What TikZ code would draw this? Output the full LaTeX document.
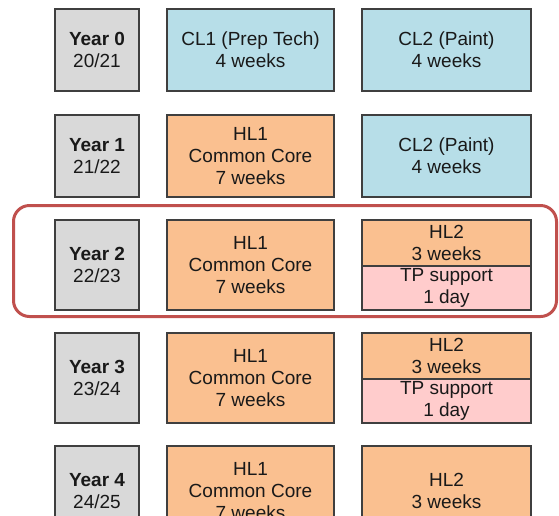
\documentclass[tikz,border=0pt]{standalone}
\usepackage{fontspec}
\setmainfont{Liberation Sans}
\usepackage{tikz}
\usetikzlibrary{positioning}
\definecolor{yeargrey}{HTML}{D9D9D9}
\definecolor{clblue}{HTML}{B7DEE8}
\definecolor{hlorange}{HTML}{FAC090}
\definecolor{tppink}{HTML}{FFCCCC}
\definecolor{edgegrey}{HTML}{3F3F3F}
\definecolor{markred}{HTML}{C0504D}
\tikzstyle{cell} = [rectangle, draw=edgegrey, line width=1.2pt, inner sep=0pt, outer sep=0pt, align=center, text=black!90, font=\fontsize{19}{22}\selectfont]
\tikzstyle{yearbox} = [cell, minimum width=84pt, fill=yeargrey]
\tikzstyle{clbox} = [cell, fill=clblue]
\tikzstyle{hlbox} = [cell, fill=hlorange]
\tikzstyle{tpbox} = [cell, fill=tppink]
\tikzstyle{highlight} = [draw=markred, line width=3pt, rounded corners=16pt]

\begin{document}
\begin{tikzpicture}[x=1pt, y=-1pt]

        \useasboundingbox (0,0) rectangle (559,515);
        \clip (0,0) rectangle (559,515);

        \node (year0) [yearbox, minimum height=82pt] at (97,50) {\textbf{Year 0}\\20/21};
        \node (year1) [yearbox, minimum height=82pt, below=24pt of year0] {\textbf{Year 1}\\21/22};
        \node (year2) [yearbox, minimum height=90pt, below=23pt of year1] {\textbf{Year 2}\\22/23};
        \node (year3) [yearbox, minimum height=90pt, below=23pt of year2] {\textbf{Year 3}\\23/24};
        \node (year4) [yearbox, minimum height=90pt, below=23pt of year3] {\textbf{Year 4}\\24/25};

        \node (cl1) [clbox, minimum width=167pt, minimum height=82pt, right=28pt of year0] {CL1 (Prep Tech)\\4 weeks};
        \node (hl1a) [hlbox, minimum width=167pt, minimum height=82pt, right=28pt of year1] {HL1\\Common Core\\7 weeks};
        \node (hl1b) [hlbox, minimum width=167pt, minimum height=90pt, right=28pt of year2] {HL1\\Common Core\\7 weeks};
        \node (hl1c) [hlbox, minimum width=167pt, minimum height=90pt, right=28pt of year3] {HL1\\Common Core\\7 weeks};
        \node (hl1d) [hlbox, minimum width=167pt, minimum height=90pt, right=28pt of year4] {HL1\\Common Core\\7 weeks};

        \node (cl2a) [clbox, minimum width=169pt, minimum height=82pt, right=28pt of cl1] {CL2 (Paint)\\4 weeks};
        \node (cl2b) [clbox, minimum width=169pt, minimum height=82pt, right=28pt of hl1a] {CL2 (Paint)\\4 weeks};
        \node (hl2a) [hlbox, minimum width=169pt, minimum height=46pt, below right=0pt and 28pt of hl1b.north east] {HL2\\3 weeks};
        \node (tp2a) [tpbox, minimum width=169pt, minimum height=44pt, below=0pt of hl2a] {TP support\\1 day};
        \node (hl2b) [hlbox, minimum width=169pt, minimum height=46pt, below right=0pt and 28pt of hl1c.north east] {HL2\\3 weeks};
        \node (tp2b) [tpbox, minimum width=169pt, minimum height=44pt, below=0pt of hl2b] {TP support\\1 day};
        \node (hl2c) [hlbox, minimum width=169pt, minimum height=90pt, right=28pt of hl1d] {HL2\\3 weeks};

        \draw [highlight] ([xshift=-41.5pt, yshift=14.5pt]year2.north west) rectangle ([xshift=25.5pt, yshift=-6.5pt]tp2a.south east);

    \end{tikzpicture}
\end{document}
